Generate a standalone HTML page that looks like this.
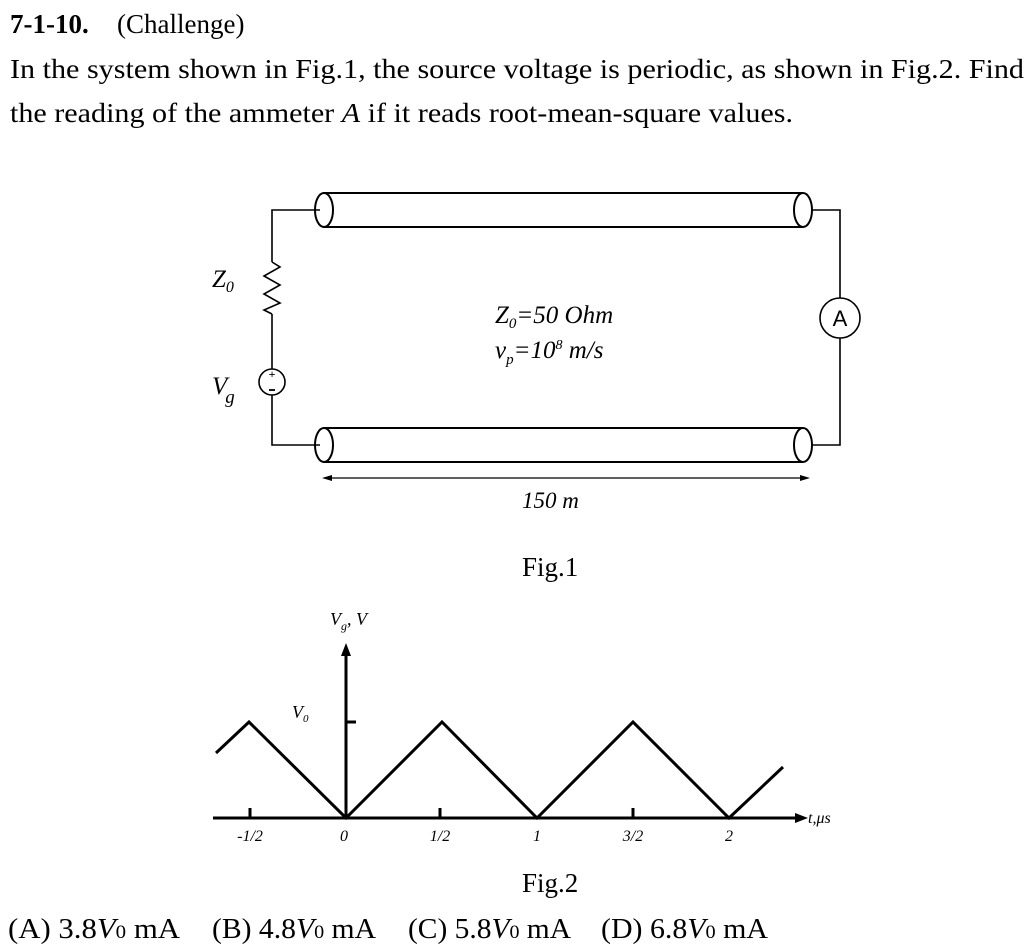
<!DOCTYPE html>
<html><head><meta charset="utf-8"><style>
html,body{margin:0;padding:0;background:#fff;}
svg{display:block;}
text{font-family:"Liberation Serif",serif;fill:#000;}
</style></head><body>
<svg width="1034" height="950" viewBox="0 0 1034 950" xmlns="http://www.w3.org/2000/svg">
<text x="10" y="33" font-size="27"><tspan font-weight="bold">7-1-10.</tspan><tspan x="117">(Challenge)</tspan></text>
<text x="10" y="78" font-size="27" textLength="1014" lengthAdjust="spacingAndGlyphs">In the system shown in Fig.1, the source voltage is periodic, as shown in Fig.2. Find</text>
<text x="10" y="122" font-size="27" textLength="783" lengthAdjust="spacingAndGlyphs">the reading of the ammeter <tspan font-style="italic">A</tspan> if it reads root-mean-square values.</text>

<g fill="none" stroke="#000" stroke-width="2">
<line x1="323" y1="193" x2="803" y2="193"/>
<line x1="323" y1="227" x2="803" y2="227"/>
<ellipse cx="324" cy="210" rx="9" ry="17" fill="#fff"/>
<ellipse cx="803" cy="210" rx="9" ry="17" fill="#fff"/>
<line x1="323" y1="428" x2="803" y2="428"/>
<line x1="323" y1="462" x2="803" y2="462"/>
<ellipse cx="324" cy="445" rx="9" ry="17" fill="#fff"/>
<ellipse cx="803" cy="445" rx="9" ry="17" fill="#fff"/>
</g>
<g fill="none" stroke="#000" stroke-width="1.6">
<polyline points="320,210 272,210 272,262"/>
<polyline points="272,262 280,267 264,276 280,285 264,294 280,303 264,310 272,314"/>
<polyline points="272,314 272,369"/>
<circle cx="272" cy="382" r="13"/>
<polyline points="272,395 272,445 320,445"/>
<polyline points="812,210 840,210 840,298"/>
<circle cx="840" cy="318" r="20"/>
<polyline points="840,338 840,445 812,445"/>
<line x1="326" y1="478" x2="806" y2="478" stroke-width="1.2"/>
</g>
<polygon points="322,478 332,475 332,481" fill="#000"/>
<polygon points="810,478 800,475 800,481" fill="#000"/>
<text x="272" y="378" font-size="12" text-anchor="middle" font-family="Liberation Sans,sans-serif" font-weight="bold">+</text>
<line x1="269" y1="390" x2="275" y2="390" stroke="#000" stroke-width="1.8"/>
<text x="840" y="326" font-size="22" text-anchor="middle" style="font-family:'Liberation Sans',sans-serif">A</text>
<text x="212" y="287" font-size="25" font-style="italic">Z<tspan font-size="16" dy="5">0</tspan></text>
<text x="212" y="394" font-size="25" font-style="italic">V<tspan font-size="19" dy="9" dx="-2">g</tspan></text>
<text x="495" y="323" font-size="25" font-style="italic">Z<tspan font-size="15" dy="5">0</tspan><tspan dy="-5">=50 Ohm</tspan></text>
<text x="495" y="358" font-size="25" font-style="italic">v<tspan font-size="15" dy="6">p</tspan><tspan dy="-6">=10</tspan><tspan font-size="14" dy="-9">8</tspan><tspan dy="9"> m/s</tspan></text>
<text x="522" y="508" font-size="23" font-style="italic">150 m</text>
<text x="522" y="576" font-size="27">Fig.1</text>

<g stroke="#000" stroke-width="3" fill="none">
<line x1="213" y1="818" x2="798" y2="818"/>
<line x1="346" y1="818" x2="346" y2="655"/>
<line x1="346" y1="722" x2="356" y2="722"/>
<line x1="250" y1="808" x2="250" y2="818"/>
<line x1="440" y1="808" x2="440" y2="818"/>
<line x1="633" y1="808" x2="633" y2="818"/>
<polyline points="216,753 249,722 346,818 442,722 537,818 633,722 729,818 783,767"/>
</g>
<polygon points="808,818 795,813 795,823" fill="#000"/>
<polygon points="346,643 341,656 351,656" fill="#000"/>
<text x="330" y="625" font-size="18" font-style="italic">V<tspan font-size="12" dy="5">g</tspan><tspan dy="-5">, V</tspan></text>
<text x="292" y="718" font-size="18" font-style="italic">V<tspan font-size="11" dy="4">0</tspan></text>
<g font-size="16" font-style="italic" text-anchor="middle">
<text x="250" y="841">-1/2</text>
<text x="344" y="841">0</text>
<text x="440" y="841">1/2</text>
<text x="537" y="841">1</text>
<text x="633" y="841">3/2</text>
<text x="729" y="841">2</text>
</g>
<text x="808" y="823" font-size="16" font-style="italic">t,μs</text>
<text x="522" y="892" font-size="27">Fig.2</text>
<g font-size="28">
<text x="8" y="938" textLength="172" lengthAdjust="spacingAndGlyphs">(A)  3.8<tspan font-style="italic">V</tspan><tspan font-size="19">0</tspan> mA</text>
<text x="212" y="938" textLength="164" lengthAdjust="spacingAndGlyphs">(B) 4.8<tspan font-style="italic">V</tspan><tspan font-size="19">0</tspan> mA</text>
<text x="408" y="938" textLength="163" lengthAdjust="spacingAndGlyphs">(C) 5.8<tspan font-style="italic">V</tspan><tspan font-size="19">0</tspan> mA</text>
<text x="601" y="938" textLength="167" lengthAdjust="spacingAndGlyphs">(D) 6.8<tspan font-style="italic">V</tspan><tspan font-size="19">0</tspan> mA</text>
</g>
</svg>
</body></html>
